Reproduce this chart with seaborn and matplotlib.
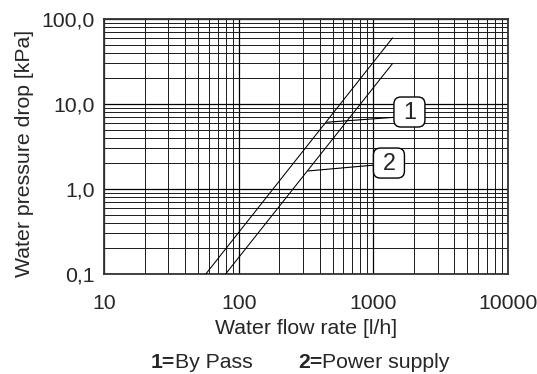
import numpy as np
import pandas as pd
import matplotlib
matplotlib.use("Agg")
import matplotlib.pyplot as plt
import seaborn as sns
from matplotlib.ticker import FixedLocator, FixedFormatter, LogLocator, NullFormatter
from matplotlib.transforms import ScaledTranslation
from matplotlib.patches import FancyBboxPatch

# ---- data ----
flow_bypass = [57, 1390]
dp_bypass = [0.1, 60]
flow_power = [80, 1390]
dp_power = [0.1, 30]
series_ids = ["1", "2"]
legend_names = ["By Pass", "Power supply"]

x_ticks = [10, 100, 1000, 10000]
x_tick_labels = ["10", "100", "1000", "10000"]
y_ticks = [0.1, 1, 10, 100]
y_tick_labels = ["0,1", "1,0", "10,0", "100,0"]
x_label = "Water flow rate [l/h]"
y_label = "Water pressure drop [kPa]"

df = pd.DataFrame({
    "flow": flow_bypass + flow_power,
    "dp": dp_bypass + dp_power,
    "series": [series_ids[0]] * len(flow_bypass) + [series_ids[1]] * len(flow_power),
})

sns.set_style("white")
plt.rcParams["font.family"] = ["Liberation Sans", "DejaVu Sans"]
FS = 15.3

fig = plt.figure(figsize=(5.37, 3.74), dpi=100)
ax = fig.add_axes([104 / 537, 1 - 274 / 374, 404 / 537, 255 / 374])

ax.set_xscale("log")
ax.set_yscale("log")
ax.set_xlim(10, 10000)
ax.set_ylim(0.1, 100)

# grid
ax.xaxis.set_minor_locator(LogLocator(base=10, subs=np.arange(2, 10)))
ax.yaxis.set_minor_locator(LogLocator(base=10, subs=np.arange(2, 10)))
ax.grid(which="major", color="black", linewidth=0.9)
ax.grid(which="minor", color="#1a1a1a", linewidth=0.7)
ax.set_axisbelow(True)

sns.lineplot(data=df, x="flow", y="dp", hue="series", palette=["black", "black"],
             legend=False, linewidth=0.75, ax=ax, zorder=3)

ax.xaxis.set_major_locator(FixedLocator(x_ticks))
ax.xaxis.set_major_formatter(FixedFormatter(x_tick_labels))
ax.xaxis.set_minor_formatter(NullFormatter())
ax.yaxis.set_major_locator(FixedLocator(y_ticks))
ax.yaxis.set_major_formatter(FixedFormatter(y_tick_labels))
ax.yaxis.set_minor_formatter(NullFormatter())

ax.tick_params(axis="x", which="major", direction="out", length=4, width=1, pad=10.5,
               labelsize=FS, color="black")
ax.tick_params(axis="x", which="minor", direction="out", length=2.5, width=0.8, color="black")
ax.tick_params(axis="y", which="major", direction="out", length=4.5, width=1, pad=2,
               labelsize=FS, color="black")
ax.tick_params(axis="y", which="minor", length=0)

for s in ax.spines.values():
    s.set_visible(True)
    s.set_color("#333333")
    s.set_linewidth(1.3)

ax.set_xlabel(x_label, fontsize=FS, va="center")
ax.xaxis.set_label_coords(0.5, -(329 - 274) / 255)
ax.set_ylabel(y_label, fontsize=FS, va="center")
ax.yaxis.set_label_coords((25 - 104) / 404, (274 - 153) / 255)

# boxed labels with leader lines
labels = [
    # (text, box center, leader start on line, leader end at box)
    (series_ids[0], (1854, 8.05), (450, 6.1), (1422, 6.97)),
    (series_ids[1], (1306, 2.02), (327, 1.63), (1010, 1.91)),
]
bw, bh = 0.31, 0.30
for txt, (cx, cy), (sx, sy), (ex, ey) in labels:
    ax.plot([sx, ex], [sy, ey], color="black", linewidth=0.8, zorder=4)
    tr = fig.dpi_scale_trans + ScaledTranslation(cx, cy, ax.transData)
    box = FancyBboxPatch((-bw / 2, -bh / 2), bw, bh,
                         boxstyle="round,pad=0,rounding_size=0.07",
                         transform=tr, facecolor="white", edgecolor="black",
                         linewidth=1.0, zorder=5, clip_on=False)
    ax.add_patch(box)
    ax.text(cx, cy, txt, ha="center", va="center", fontsize=FS + 1.5, zorder=6)

# legend text below
ly = 1 - 363 / 374
t1 = fig.text(150.7 / 537, ly, series_ids[0] + "=", fontsize=FS, fontweight="bold",
              ha="left", va="center")
a1 = ax.annotate(legend_names[0], xy=(1, 0.5), xycoords=t1, ha="left", va="center",
                 fontsize=FS, annotation_clip=False)
t2 = fig.text(298 / 537, ly, series_ids[1] + "=", fontsize=FS, fontweight="bold",
              ha="left", va="center")
a2 = ax.annotate(legend_names[1], xy=(1, 0.5), xycoords=t2, ha="left", va="center",
                 fontsize=FS, annotation_clip=False)

fig.savefig("out.png", dpi=100)
